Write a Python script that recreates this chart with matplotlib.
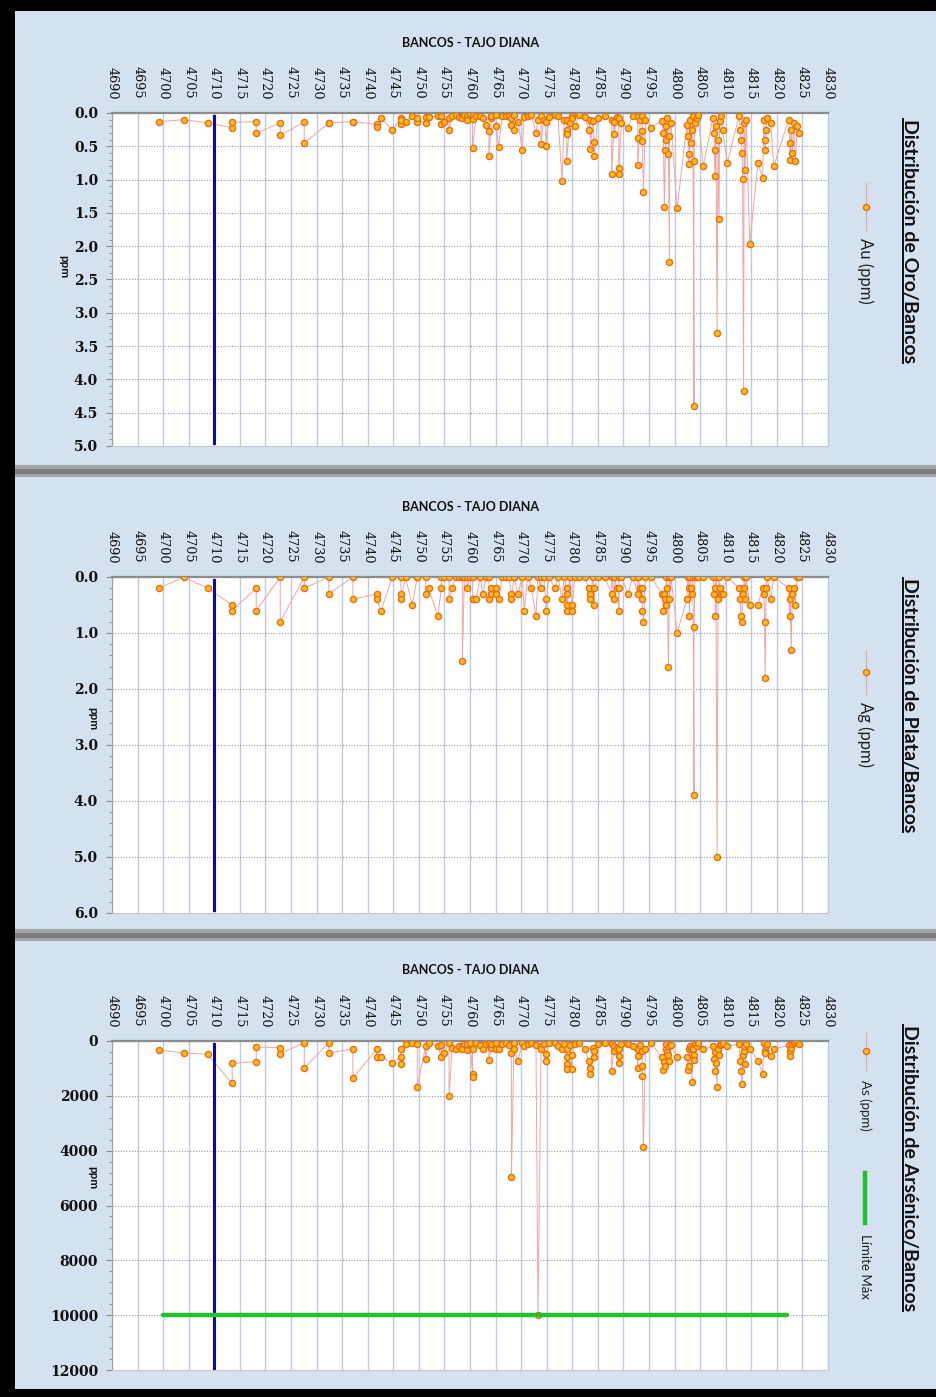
import numpy as np
import matplotlib.pyplot as plt
from matplotlib.lines import Line2D
from matplotlib.patches import Rectangle
from matplotlib.ticker import MultipleLocator, FormatStrFormatter

plt.rcParams['font.family'] = ['DejaVu Serif']

# banco (m) de cada muestra, en orden de muestreo
banco = [
    4699.2, 4704.0, 4708.7, 4713.5, 4713.5, 4718.2, 4718.2, 4722.9, 4722.9, 4727.6,
    4727.6, 4732.4, 4732.4, 4737.1, 4737.1, 4741.8, 4741.8, 4742.6, 4744.8, 4746.5,
    4746.5, 4746.5, 4747.4, 4748.7, 4749.7, 4749.7, 4751.3, 4751.3, 4751.9, 4753.7,
    4754.4, 4754.4, 4755.0, 4755.9, 4755.9, 4756.5, 4757.3, 4757.8, 4758.5, 4758.5,
    4758.9, 4759.4, 4759.4, 4760.0, 4760.5, 4760.5, 4760.5, 4761.2, 4762.0, 4762.5,
    4763.2, 4763.7, 4763.7, 4764.2, 4764.2, 4765.1, 4765.1, 4765.6, 4766.3, 4767.1,
    4767.6, 4768.1, 4768.1, 4768.6, 4768.6, 4769.4, 4770.2, 4770.6, 4771.3, 4772.0,
    4772.9, 4773.3, 4773.9, 4773.9, 4774.4, 4774.8, 4774.8, 4775.4, 4776.6, 4777.2,
    4778.0, 4778.4, 4778.9, 4778.9, 4778.9, 4778.9, 4779.5, 4779.9, 4779.9, 4780.5,
    4781.4, 4782.5, 4783.2, 4783.5, 4783.5, 4784.0, 4784.3, 4784.3, 4785.0, 4786.3,
    4787.7, 4787.7, 4788.2, 4788.2, 4788.7, 4789.1, 4789.1, 4789.1, 4789.6, 4790.9,
    4791.8, 4792.8, 4792.8, 4792.8, 4793.3, 4793.7, 4793.7, 4793.7, 4793.9, 4794.3, 4795.3,
    4797.6, 4797.8, 4798.0, 4798.2, 4798.3, 4798.4, 4798.6, 4798.8, 4799.0, 4799.0, 4799.3, 4800.5,
    4802.4, 4802.6, 4802.8, 4802.9, 4803.0, 4803.2, 4803.4, 4803.6, 4803.8, 4803.8, 4804.0, 4804.3, 4804.6, 4805.6,
    4807.5, 4807.7, 4807.9, 4808.0, 4808.1, 4808.3, 4808.5, 4808.7, 4808.8, 4809.0, 4809.4, 4810.3,
    4812.6, 4812.8, 4813.0, 4813.2, 4813.3, 4813.5, 4813.6, 4813.8, 4814.0, 4814.7,
    4816.3, 4817.2, 4817.5, 4817.6, 4817.7, 4817.9, 4818.1, 4818.8, 4819.4,
    4822.3, 4822.5, 4822.6, 4822.8, 4823.0, 4823.3, 4823.6, 4824.0, 4824.3,
]

au_ppm = [
    0.13, 0.10, 0.15, 0.22, 0.14, 0.13, 0.30, 0.15, 0.33, 0.14,
    0.45, 0.15, 0.15, 0.13, 0.13, 0.17, 0.21, 0.07, 0.26, 0.07,
    0.16, 0.10, 0.13, 0.04, 0.14, 0.08, 0.15, 0.06, 0.06, 0.04,
    0.05, 0.17, 0.14, 0.08, 0.25, 0.05, 0.03, 0.06, 0.05, 0.08,
    0.03, 0.05, 0.10, 0.02, 0.03, 0.09, 0.52, 0.05, 0.04, 0.07,
    0.18, 0.27, 0.65, 0.08, 0.04, 0.03, 0.19, 0.51, 0.04, 0.05,
    0.04, 0.08, 0.18, 0.03, 0.25, 0.13, 0.55, 0.06, 0.04, 0.03,
    0.30, 0.10, 0.05, 0.46, 0.10, 0.14, 0.49, 0.06, 0.03, 0.05,
    1.02, 0.10, 0.10, 0.25, 0.32, 0.72, 0.15, 0.04, 0.08, 0.20,
    0.03, 0.06, 0.25, 0.10, 0.54, 0.12, 0.44, 0.65, 0.08, 0.04,
    0.10, 0.91, 0.13, 0.32, 0.06, 0.08, 0.82, 0.91, 0.15, 0.22,
    0.05, 0.05, 0.37, 0.78, 0.10, 0.05, 0.27, 0.42, 1.18, 0.10, 0.22,
    0.12, 0.30, 1.41, 0.55, 0.20, 0.40, 0.08, 0.62, 2.24, 0.35, 0.15, 1.43,
    0.18, 0.35, 0.76, 0.62, 0.10, 0.45, 0.25, 0.05, 4.40, 0.72, 0.15, 0.08, 0.03, 0.80,
    0.07, 0.30, 0.95, 0.55, 0.20, 3.30, 0.40, 1.59, 0.12, 0.05, 0.25, 0.75,
    0.05, 0.25, 0.40, 0.60, 0.99, 4.17, 0.15, 0.85, 0.10, 1.97,
    0.75, 0.98, 0.10, 0.40, 0.55, 0.25, 0.08, 0.15, 0.80,
    0.10, 0.45, 0.70, 0.25, 0.60, 0.15, 0.72, 0.20, 0.30,
]

ag_ppm = [
    0.2, 0.0, 0.2, 0.5, 0.6, 0.2, 0.6, 0.0, 0.8, 0.0,
    0.2, 0.0, 0.3, 0.0, 0.4, 0.3, 0.4, 0.6, 0.0, 0.0,
    0.3, 0.4, 0.0, 0.5, 0.0, 0.0, 0.0, 0.3, 0.2, 0.7,
    0.2, 0.0, 0.0, 0.0, 0.4, 0.2, 0.0, 0.0, 0.0, 1.5,
    0.0, 0.0, 0.2, 0.0, 0.0, 0.4, 0.4, 0.4, 0.0, 0.3,
    0.0, 0.0, 0.4, 0.2, 0.3, 0.2, 0.3, 0.4, 0.0, 0.0,
    0.0, 0.3, 0.4, 0.0, 0.0, 0.3, 0.0, 0.6, 0.0, 0.2,
    0.7, 0.0, 0.2, 0.0, 0.0, 0.4, 0.6, 0.0, 0.2, 0.0,
    0.4, 0.0, 0.2, 0.3, 0.5, 0.6, 0.0, 0.5, 0.6, 0.0,
    0.0, 0.0, 0.2, 0.3, 0.4, 0.0, 0.5, 0.2, 0.0, 0.0,
    0.3, 0.0, 0.4, 0.0, 0.2, 0.2, 0.6, 0.0, 0.0, 0.3,
    0.0, 0.3, 0.0, 0.0, 0.2, 0.2, 0.4, 0.6, 0.8, 0.0, 0.0,
    0.3, 0.6, 0.3, 0.4, 0.5, 0.0, 0.2, 1.6, 0.0, 0.4, 0.0, 1.0,
    0.4, 0.0, 0.2, 0.7, 0.0, 0.2, 0.3, 0.0, 3.9, 0.9, 0.0, 0.0, 0.0, 0.0,
    0.0, 0.3, 0.2, 0.7, 0.0, 5.0, 0.4, 0.0, 0.2, 0.3, 0.3, 0.0,
    0.2, 0.4, 0.7, 0.8, 0.3, 0.2, 0.0, 0.4, 0.0, 0.5,
    0.5, 0.2, 0.3, 0.8, 1.8, 0.2, 0.0, 0.4, 0.0,
    0.2, 0.7, 0.4, 1.3, 0.3, 0.2, 0.5, 0.0, 0.0,
]

as_ppm = [
    330, 435, 485, 1550, 820, 750, 220, 240, 460, 60,
    990, 60, 435, 290, 1355, 290, 570, 570, 810, 570,
    850, 300, 100, 60, 100, 1660, 200, 650, 60, 200,
    570, 150, 435, 60, 2020, 250, 300, 200, 200, 280,
    100, 100, 320, 60, 1210, 1330, 300, 60, 150, 300,
    100, 60, 690, 250, 100, 60, 300, 300, 100, 60,
    150, 435, 4960, 60, 300, 725, 60, 200, 100, 60,
    150, 10000, 200, 300, 100, 485, 725, 60, 60, 200,
    300, 100, 600, 850, 1030, 300, 150, 1030, 500, 100,
    60, 300, 725, 970, 1190, 250, 360, 600, 100, 60,
    100, 1090, 180, 360, 250, 545, 820, 300, 100, 120,
    200, 545, 970, 300, 150, 360, 930, 1270, 3870, 300, 60,
    600, 1050, 780, 910, 300, 120, 400, 500, 200, 725, 150, 600,
    600, 1050, 300, 900, 200, 240, 1480, 300, 500, 700, 100, 200, 60, 300,
    200, 650, 400, 1100, 800, 1670, 300, 500, 150, 100, 60, 200,
    100, 720, 1100, 1570, 500, 350, 200, 850, 100, 300,
    720, 1190, 60, 350, 450, 200, 100, 550, 300,
    150, 350, 540, 250, 100, 60, 50, 0, 100,
]

# banco de referencia (línea azul) y su extensión en cada gráfico
banco_ref = 4710
ref_au = [0.05, 4.95]
ref_ag = [0.05, 5.95]
ref_as = [100, 12000]

# límite máximo de arsénico
limite_as = 10000
limite_as_x = [4700, 4822]

W, H = 937, 1397
fig = plt.figure(figsize=(W / 100, H / 100), dpi=100)
fig.patch.set_facecolor('#d3e1f0')


def fx(px):
    return px / W


def fy(py):
    return 1 - py / H


LINEA = '#f2a3a3'
SANS = ['Lato', 'DejaVu Sans']

paneles = [
    dict(valores=au_ppm, ref=ref_au, ymax=5.0, mayor=0.5, menor=0.1, fmt='%.1f',
         top=113, bottom=446, titulo_y=43, ppm_x=64, ppm_y=267,
         nombre='Distribución de Oro/Bancos', nombre_y=241),
    dict(valores=ag_ppm, ref=ref_ag, ymax=6.0, mayor=1.0, menor=0.2, fmt='%.1f',
         top=577, bottom=913, titulo_y=507, ppm_x=93, ppm_y=719,
         nombre='Distribución de Plata/Bancos', nombre_y=705),
    dict(valores=as_ppm, ref=ref_as, ymax=12000, mayor=2000, menor=400, fmt='%d',
         top=1041, bottom=1370, titulo_y=970, ppm_x=93, ppm_y=1178,
         nombre='Distribución de Arsénico/Bancos', nombre_y=1168),
]

ejes = []
nombres = []
for p in paneles:
    ax = fig.add_axes([fx(112), fy(p['bottom']), (828 - 112) / W,
                       (p['bottom'] - p['top']) / H])
    ax.set_facecolor('white')
    ax.set_xlim(4690, 4830)
    ax.set_ylim(p['ymax'], 0)

    # eje x arriba, etiquetas giradas
    ax.xaxis.tick_top()
    ax.set_xticks(np.arange(4690, 4831, 5))
    ax.tick_params(axis='x', length=0, pad=10, labelsize=9.2,
                   labelrotation=270, labelcolor='#111111')

    ax.yaxis.set_major_locator(MultipleLocator(p['mayor']))
    ax.yaxis.set_minor_locator(MultipleLocator(p['menor']))
    ax.yaxis.set_major_formatter(FormatStrFormatter(p['fmt']))
    ax.tick_params(axis='y', which='major', direction='out', length=4,
                   color='#8a8a8a', pad=6, labelsize=10, labelcolor='#111111')
    ax.tick_params(axis='y', which='minor', direction='out', length=2.5,
                   color='#8a8a8a')
    for t in ax.get_yticklabels():
        t.set_fontweight('bold')

    # rejilla
    ax.grid(axis='x', color='#bccbe1', lw=1.0, ls='-')
    ax.grid(axis='y', color='#9a9a9a', lw=0.8, ls=(0, (1, 1.5)))
    ax.set_axisbelow(True)

    ax.spines['top'].set_color('#8c8c8c')
    ax.spines['top'].set_linewidth(1.6)
    ax.spines['left'].set_color('#a0a0a0')
    for s in ('right', 'bottom'):
        ax.spines[s].set_color('#c8c8c8')
        ax.spines[s].set_linewidth(0.8)

    # serie de muestras
    ax.plot(banco, p['valores'], color=LINEA, lw=0.7, zorder=3)
    ax.plot(banco, p['valores'], ls='none', marker='o', ms=4.4,
            mfc='#ffc020', mec='#ee6a10', mew=1.0, zorder=4)

    # banco de referencia
    ax.plot([banco_ref, banco_ref], p['ref'], color='#0a0aa8', lw=2.2, zorder=5)

    fig.text(fx(470), fy(p['titulo_y']), 'BANCOS - TAJO DIANA', ha='center',
             va='center', fontsize=9, fontweight='bold', family=SANS,
             color='#111111')
    fig.text(fx(p['ppm_x']), fy(p['ppm_y']), 'ppm', rotation=270, ha='center',
             va='center', fontsize=8.5, fontweight='bold', family=SANS,
             color='#111111')
    nombres.append(fig.text(fx(910), fy(p['nombre_y']), p['nombre'],
                            rotation=270, ha='center', va='center',
                            fontsize=14, fontweight='bold', family=SANS,
                            color='#111111'))
    ejes.append(ax)

# límite máximo de As
ejes[2].plot(limite_as_x, [limite_as, limite_as], color='#22c22c', lw=3.2,
             solid_capstyle='round', zorder=5)


# leyendas giradas
def muestra_serie(y0, y1, ym):
    fig.add_artist(Line2D([fx(866), fx(866)], [fy(y0), fy(y1)],
                          transform=fig.transFigure, color=LINEA, lw=0.8))
    fig.add_artist(Line2D([fx(866)], [fy(ym)], transform=fig.transFigure,
                          ls='none', marker='o', ms=4.4, mfc='#ffc020',
                          mec='#ee6a10', mew=1.0))


muestra_serie(183, 230, 207)
fig.text(fx(865), fy(271), 'Au (ppm)', rotation=270, ha='center', va='center',
         fontsize=12, family=SANS, color='#222222')
muestra_serie(650, 694, 672)
fig.text(fx(865), fy(734), 'Ag (ppm)', rotation=270, ha='center', va='center',
         fontsize=12, family=SANS, color='#222222')
muestra_serie(1033, 1070, 1051)
fig.text(fx(865), fy(1105), 'As (ppm)', rotation=270, ha='center', va='center',
         fontsize=9.5, family=SANS, color='#222222')
fig.add_artist(Line2D([fx(865), fx(865)], [fy(1173), fy(1223)],
                      transform=fig.transFigure, color='#22c22c', lw=3.2))
fig.text(fx(865), fy(1266), 'Límite Máx', rotation=270, ha='center',
         va='center', fontsize=9.5, family=SANS, color='#222222')

# separadores grises y marco negro
for y0, y1 in ((465, 477), (929, 941)):
    fig.add_artist(Rectangle((fx(15), fy(y1)), 1, (y1 - y0) / H,
                             transform=fig.transFigure, color='#a6a6a6', lw=0))
    fig.add_artist(Rectangle((fx(15), fy(y1 - 3)), 1, 5 / H,
                             transform=fig.transFigure, color='#7e7e7e', lw=0))
fig.add_artist(Rectangle((0, 0), fx(15), 1, transform=fig.transFigure,
                         color='black', lw=0))
fig.add_artist(Rectangle((0, fy(11)), 1, 11 / H, transform=fig.transFigure,
                         color='black', lw=0))
fig.add_artist(Rectangle((0, 0), 1, 8 / H, transform=fig.transFigure,
                         color='black', lw=0))

# subrayado de los títulos laterales
fig.canvas.draw()
for t in nombres:
    bb = t.get_window_extent()
    fig.add_artist(Line2D([(bb.x0 + 2) / W, (bb.x0 + 2) / W],
                          [bb.y0 / H, bb.y1 / H], transform=fig.transFigure,
                          color='#111111', lw=1.4))

fig.savefig('out.png', dpi=100, facecolor=fig.get_facecolor())
